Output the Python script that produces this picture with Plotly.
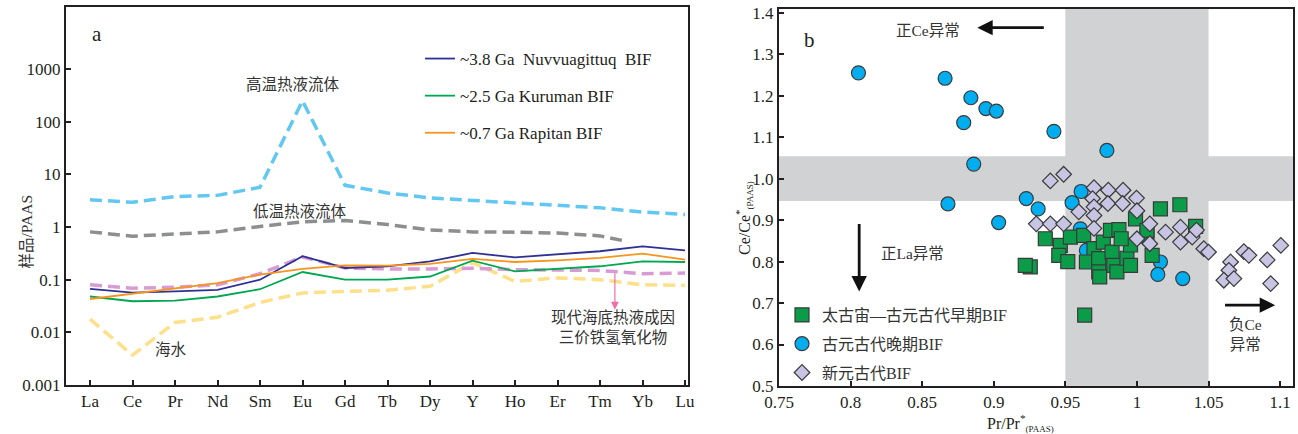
import plotly.graph_objects as go
import numpy as np

# ---------------- Panel a data ----------------
REE = ["La", "Ce", "Pr", "Nd", "Sm", "Eu", "Gd", "Tb", "Dy", "Y", "Ho", "Er", "Tm", "Yb", "Lu"]
REE_IDX = list(range(len(REE)))

high_temp_fluid = [3.3, 2.95, 3.8, 4.0, 5.7, 250, 6.2, 4.45, 3.57, 3.2, 2.93, 2.57, 2.32, 1.93, 1.73]
low_temp_idx = [0, 1, 2, 3, 4, 5, 6, 7, 8, 9, 10, 11, 12, 12.6]
low_temp_fluid = [0.81, 0.67, 0.74, 0.81, 1.03, 1.26, 1.33, 1.12, 0.88, 0.81, 0.80, 0.77, 0.68, 0.54]
fe_oxyhydroxide = [0.080, 0.069, 0.072, 0.080, 0.13, 0.27, 0.167, 0.16, 0.16, 0.165, 0.155, 0.155, 0.15, 0.13, 0.134]
seawater = [0.0178, 0.0037, 0.0154, 0.0194, 0.037, 0.056, 0.060, 0.063, 0.075, 0.21, 0.093, 0.108, 0.10, 0.080, 0.078]
nuvvuagittuq = [0.067, 0.057, 0.060, 0.064, 0.10, 0.28, 0.167, 0.18, 0.223, 0.322, 0.266, 0.30, 0.347, 0.43, 0.36]
kuruman = [0.048, 0.039, 0.040, 0.048, 0.066, 0.14, 0.10, 0.10, 0.115, 0.23, 0.144, 0.16, 0.18, 0.223, 0.217]
rapitan = [0.043, 0.054, 0.069, 0.086, 0.125, 0.16, 0.187, 0.185, 0.20, 0.248, 0.217, 0.233, 0.259, 0.313, 0.24]

y_ticks_a = [0.001, 0.01, 0.1, 1, 10, 100, 1000]
y_ticktext_a = ["0.001", "0.01", "0.1", "1", "10", "100", "1000"]

# ---------------- Panel b data ----------------
late_paleo_pr = [0.8055, 0.866, 0.884, 0.8945, 0.9018, 0.879, 0.886, 0.868, 0.9227, 0.9034,
                 0.942, 0.979, 0.931, 0.9547, 0.961, 0.9605, 0.9647, 1.0164, 1.0146, 1.032]
late_paleo_ce = [1.255, 1.242, 1.195, 1.169, 1.163, 1.135, 1.035, 0.939, 0.952, 0.894,
                 1.114, 1.068, 0.927, 0.942, 0.969, 0.879, 0.827, 0.799, 0.769, 0.759]

archean_pr = [0.936, 0.9465, 0.9535, 0.9628, 0.9454, 0.9517, 0.970, 0.9765, 0.9815, 0.9874,
              0.9647, 0.9733, 0.9733, 0.9826, 0.9838, 0.986, 0.993, 0.9955, 0.999, 0.974,
              0.9255, 0.922, 1.007, 0.9955, 0.989, 1.0106, 1.007, 1.0164, 1.030, 1.041, 0.9635]
archean_ce = [0.855, 0.839, 0.859, 0.863, 0.815, 0.800, 0.831, 0.847, 0.875, 0.877,
              0.799, 0.807, 0.775, 0.823, 0.791, 0.775, 0.808, 0.840, 0.903, 0.763,
              0.787, 0.791, 0.862, 0.791, 0.855, 0.815, 0.875, 0.927, 0.937, 0.885, 0.671]

neo_pr = [0.9488, 0.9395, 0.970, 0.980, 0.9903, 0.969, 0.9797, 0.990, 0.9997, 0.9594,
          0.970, 0.970, 1.000, 0.9297, 0.9395, 0.9488, 0.970, 1.000, 1.009, 1.009,
          1.020, 1.0304, 1.0304, 1.0386, 1.0416, 1.0467, 1.050, 1.0654, 1.0747, 1.0782,
          1.0642, 1.0607, 1.0677, 1.091, 1.1005, 1.0934]
neo_ce = [1.0105, 0.9945, 0.978, 0.972, 0.972, 0.952, 0.940, 0.940, 0.953, 0.920,
          0.932, 0.911, 0.9225, 0.891, 0.891, 0.891, 0.880, 0.855, 0.891, 0.843,
          0.871, 0.883, 0.847, 0.859, 0.876, 0.831, 0.823, 0.799, 0.824, 0.815,
          0.779, 0.755, 0.759, 0.804, 0.839, 0.747]

ce_band = [0.946, 1.054]
pr_band = [0.95, 1.05]
x_ticks_b = [0.75, 0.8, 0.85, 0.9, 0.95, 1.0, 1.05, 1.1]
x_ticktext_b = ["0.75", "0.8", "0.85", "0.9", "0.95", "1", "1.05", "1.1"]
y_ticks_b = [0.5, 0.6, 0.7, 0.8, 0.9, 1.0, 1.1, 1.2, 1.3, 1.4]

SERIF = "Liberation Serif"
CJK = "Liberation Serif, Noto Sans CJK SC"
AXC = "#231f20"

fig = go.Figure()

# dashed reference curves
dash_specs = [
    (REE_IDX, high_temp_fluid, "#62c8f1"),
    (low_temp_idx, low_temp_fluid, "#8d8e90"),
    (REE_IDX, seawater, "#fedf8a"),
    (REE_IDX, fe_oxyhydroxide, "#d99bd3"),
]
for xs, ys, col in dash_specs:
    fig.add_trace(go.Scatter(x=xs, y=ys, mode="lines", showlegend=False,
                             line=dict(color=col, width=3.5, dash="12px,6px"),
                             xaxis="x", yaxis="y", hoverinfo="skip"))

solid_specs = [
    (nuvvuagittuq, "#2e3192", "~3.8 Ga\u00a0 Nuvvuagittuq\u00a0 BIF", "g1"),
    (kuruman, "#00a651", "~2.5 Ga Kuruman BIF", "g2"),
    (rapitan, "#f7941d", "~0.7 Ga Rapitan BIF", "g3"),
]
for ys, col, name, grp in solid_specs:
    fig.add_trace(go.Scatter(x=REE_IDX, y=ys, mode="lines", name=name,
                             legend="legend", legendgroup=grp,
                             line=dict(color=col, width=1.8),
                             xaxis="x", yaxis="y"))

# panel b scatter
MK_LINE = dict(color="#3a3a3a", width=1.2)
fig.add_trace(go.Scatter(x=late_paleo_pr, y=late_paleo_ce, mode="markers",
                         name="古元古代晚期BIF", legend="legend2", legendgroup="b2", legendrank=2,
                         marker=dict(symbol="circle", size=14, color="#00aeef", line=MK_LINE),
                         xaxis="x2", yaxis="y2"))
fig.add_trace(go.Scatter(x=archean_pr, y=archean_ce, mode="markers",
                         name="太古宙—古元古代早期BIF", legend="legend2", legendgroup="b1", legendrank=1,
                         marker=dict(symbol="square", size=14, color="#0b9c4a", line=MK_LINE),
                         xaxis="x2", yaxis="y2"))
fig.add_trace(go.Scatter(x=neo_pr, y=neo_ce, mode="markers",
                         name="新元古代BIF", legend="legend2", legendgroup="b3", legendrank=3,
                         marker=dict(symbol="diamond", size=12, color="#c7c5e3", line=MK_LINE),
                         xaxis="x2", yaxis="y2"))

W, H = 1298, 434
def px(v):
    return min(1.0, max(0.0, v / W))
def py(v):
    return min(1.0, max(0.0, 1 - v / H))

axis_common = dict(showgrid=False, zeroline=False, showline=True, linewidth=2,
                   linecolor=AXC, mirror=True, ticks="inside", ticklen=5, tickwidth=1.5,
                   tickcolor=AXC, automargin=False,
                   tickfont=dict(family=SERIF, size=17, color=AXC))

fig.update_layout(
    width=W, height=H, margin=dict(l=0, r=0, t=0, b=0, autoexpand=False),
    paper_bgcolor="white", plot_bgcolor="white",
    xaxis=dict(domain=[px(66), px(688)], range=[-0.565, 14.07], tickmode="array",
               tickvals=REE_IDX, ticktext=REE, anchor="y", **axis_common),
    yaxis=dict(domain=[py(385), py(7)], type="log", range=[-3, 4.18], tickmode="array",
               tickvals=y_ticks_a, ticktext=y_ticktext_a, anchor="x", **axis_common),
    xaxis2=dict(domain=[px(779), px(1293)], range=[0.75, 1.109], tickmode="array",
                tickvals=x_ticks_b, ticktext=x_ticktext_b, anchor="y2", **axis_common),
    yaxis2=dict(domain=[py(386), py(9)], range=[0.5, 1.409], tickmode="array",
                tickvals=y_ticks_b, tickformat=".1f", anchor="x2", **axis_common),
    legend=dict(x=px(420), y=py(41), xanchor="left", yanchor="top",
                font=dict(family=SERIF, size=17, color=AXC), bgcolor="rgba(0,0,0,0)",
                tracegroupgap=12),
    legend2=dict(x=px(782), y=py(298), xanchor="left", yanchor="top",
                 font=dict(family=CJK, size=16, color="#333"), bgcolor="rgba(0,0,0,0)",
                 tracegroupgap=5),
    showlegend=True,
)

# grey bands in panel b
fig.add_shape(type="rect", xref="x2", yref="y2", x0=0.75, x1=1.109, y0=ce_band[0], y1=ce_band[1],
              fillcolor="#d1d2d4", line=dict(width=0), layer="below")
fig.add_shape(type="rect", xref="x2", yref="y2", x0=pr_band[0], x1=pr_band[1], y0=0.5, y1=1.409,
              fillcolor="#d1d2d4", line=dict(width=0), layer="below")

TXT = "#333333"
ann = []
# panel a texts
ann.append(dict(x=0.16, y=3.667, xref="x", yref="y", text="a", showarrow=False,
                font=dict(family=SERIF, size=21, color=AXC)))
ann.append(dict(x=4.78, y=2.714, xref="x", yref="y", text="高温热液流体", showarrow=False,
                font=dict(family=CJK, size=15.5, color=TXT)))
ann.append(dict(x=4.94, y=0.295, xref="x", yref="y", text="低温热液流体", showarrow=False,
                font=dict(family=CJK, size=15.5, color=TXT)))
ann.append(dict(x=1.9, y=-2.33, xref="x", yref="y", text="海水", showarrow=False,
                font=dict(family=CJK, size=15.5, color=TXT)))
ann.append(dict(x=12.3, y=-1.9, xref="x", yref="y", text="现代海底热液成因<br>三价铁氢氧化物",
                showarrow=False, font=dict(family=CJK, size=15.5, color=TXT)))
ann.append(dict(x=12.35, y=np.log10(0.027), ax=12.35, ay=np.log10(0.142), xref="x", yref="y",
                axref="x", ayref="y", text="", showarrow=True, arrowhead=2, arrowsize=1.3,
                arrowwidth=1.2, arrowcolor="#f06eaa"))
ann.append(dict(x=px(15), y=py(232), xref="paper", yref="paper", text="样品/PAAS", textangle=-90,
                showarrow=False, font=dict(family=CJK, size=15.5, color=TXT)))
# panel b texts
ann.append(dict(x=0.771, y=1.335, xref="x2", yref="y2", text="b", showarrow=False,
                font=dict(family=SERIF, size=21, color=AXC)))
ann.append(dict(x=0.854, y=1.357, xref="x2", yref="y2", text="正Ce异常", showarrow=False,
                font=dict(family=CJK, size=15.5, color=TXT)))
ann.append(dict(x=0.8885, y=1.364, ax=0.936, ay=1.364, xref="x2", yref="y2", axref="x2", ayref="y2",
                text="", showarrow=True, arrowhead=2, arrowsize=1.1, arrowwidth=2.8, arrowcolor="#111"))
ann.append(dict(x=0.843, y=0.819, xref="x2", yref="y2", text="正La异常", showarrow=False,
                font=dict(family=CJK, size=15.5, color=TXT)))
ann.append(dict(x=0.806, y=0.728, ax=0.806, ay=0.894, xref="x2", yref="y2", axref="x2", ayref="y2",
                text="", showarrow=True, arrowhead=2, arrowsize=1.1, arrowwidth=2.8, arrowcolor="#111"))
ann.append(dict(x=1.0965, y=0.695, ax=1.0605, ay=0.695, xref="x2", yref="y2", axref="x2", ayref="y2",
                text="", showarrow=True, arrowhead=2, arrowsize=1.1, arrowwidth=2.8, arrowcolor="#111"))
ann.append(dict(x=1.076, y=0.625, xref="x2", yref="y2", text="负Ce<br>异常", showarrow=False,
                font=dict(family=CJK, size=15.5, color=TXT)))
ann.append(dict(x=px(744), y=py(218), xref="paper", yref="paper", textangle=-90, showarrow=False,
                text="Ce/Ce<sup>*</sup><sub><span style='font-size:9px'>(PAAS)</span></sub>",
                font=dict(family=SERIF, size=16, color=AXC)))
ann.append(dict(x=px(985), y=py(410), xref="paper", yref="paper", xanchor="left", yanchor="top",
                showarrow=False,
                text="Pr/Pr<sup>*</sup><sub><span style='font-size:9px'>(PAAS)</span></sub>",
                font=dict(family=SERIF, size=16, color=AXC)))
fig.update_layout(annotations=ann)

fig.write_html("out.html", config={"displayModeBar": False},
               post_script="document.body.style.margin='0';document.body.style.overflow='hidden';")
